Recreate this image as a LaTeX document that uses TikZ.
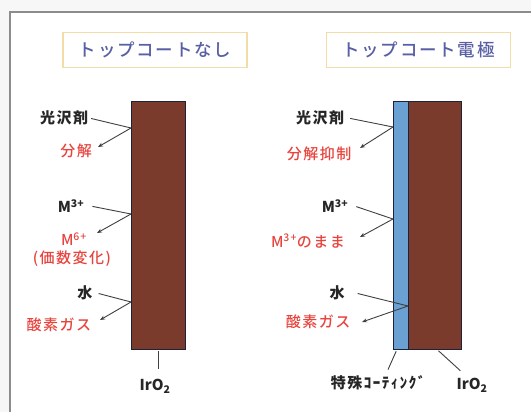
\documentclass[tikz,border=0pt]{standalone}
\usepackage{fontspec}
\setmainfont{Noto Sans CJK JP}
\newfontfamily\jpwide{Noto Sans CJK JP}[LetterSpace=10]
\newfontfamily\jpmed{Noto Sans CJK JP Medium}[LetterSpace=10]
\usetikzlibrary{arrows.meta}
\definecolor{oxidebrown}{HTML}{7A3A2C}
\definecolor{coatblue}{HTML}{6AA0D2}
\definecolor{edgenavy}{HTML}{1E2238}
\definecolor{resred}{HTML}{E8443E}
\definecolor{headblue}{HTML}{5A5FA5}
\definecolor{headrim}{HTML}{F2DDA8}

\begin{document}
\begin{tikzpicture}[x=1pt, y=-1pt,
        % box styles
        headbox/.style={rectangle, draw=headrim, line width=1.3pt, fill=white, minimum width=184pt, minimum height=35pt, text=headblue, font=\fontsize{17.5}{20}\selectfont\jpmed},
        oxide/.style={rectangle, draw=edgenavy, thick, fill=oxidebrown, minimum height=248pt},
        coat/.style={rectangle, draw=edgenavy, thick, fill=coatblue, minimum height=248pt},
        % text and line styles
        species/.style={font=\fontsize{15}{18}\selectfont\jpwide\bfseries, text=black!85, inner sep=1pt},
        formula/.style={font=\fontsize{15}{18}\selectfont\bfseries, text=black!85, inner sep=1pt},
        result/.style={font=\fontsize{15}{18}\selectfont\jpmed, text=resred, inner sep=1pt},
        lead/.style={draw=black!75, line width=0.9pt, shorten <=2pt},
        arrow/.style={draw=black!75, line width=0.9pt, -{Stealth[length=5pt, width=4pt]}}
    ]

    % --- FRAME ---
    \fill[black!3] (0,0) rectangle (531,412);
    \useasboundingbox (0,0) rectangle (531,412);
    \fill[white] (10,12) rectangle (531,412);
    \draw[black!45, line width=1.2pt] (10,412) -- (10,12) -- (531,12);

    % --- HEADINGS ---
    \node[headbox] (headL) at (155,50) {トップコートなし};
    \node[headbox] (headR) at (418.5,50) {トップコート電極};

    % --- ELECTRODES ---
    \node[oxide, minimum width=54pt] (oxL) at (158,225) {};
    \node[coat, minimum width=15pt] (coatR) at (400.5,225) {};
    \node[oxide, minimum width=53pt] (oxR) at (434.5,225) {};

    % --- LEFT: WITHOUT TOP COAT ---
    \node[species] (glossL) at (64,118) {光沢剤};
    \node[result] (decL) at (76,151) {分解};
    \node[formula] (mL) at (71,206) {M\textsuperscript{3+}};
    \node[result] (valL) at (74,239) {M\textsuperscript{6+}};
    \node[result] (valnoteL) at (72,259) {(価数変化)};
    \node[species] (waterL) at (85,293) {水};
    \node[result] (o2L) at (59,325) {酸素ガス};
    \node[formula] (irL) at (155,386) {IrO\textsubscript{2}};

    \coordinate (hitL1) at (131,128);
    \coordinate (hitL2) at (131,214);
    \coordinate (hitL3) at (131,302);
    \coordinate (tipL1) at (98,147);
    \coordinate (tipL2) at (97,233);
    \coordinate (tipL3) at (100,320);

    \draw[lead] (glossL.east) -- (hitL1);
    \draw[arrow] (hitL1) -- (tipL1);
    \draw[lead] ([xshift=5pt]mL.east) -- (hitL2);
    \draw[arrow] (hitL2) -- (tipL2);
    \draw[lead] ([xshift=3pt]waterL.east) -- (hitL3);
    \draw[arrow] (hitL3) -- (tipL3);
    \draw[lead, shorten >=9pt] (oxL.south) -- (oxL.south |- irL.north);

    % --- RIGHT: WITH TOP COAT ---
    \node[species] (glossR) at (320,118) {光沢剤};
    \node[result] (decR) at (319,154) {分解抑制};
    \node[formula] (mR) at (335,206) {M\textsuperscript{3+}};
    \node[result] (keepR) at (308,241) {M\textsuperscript{3+}のまま};
    \node[species] (waterR) at (337,293) {水};
    \node[result] (o2R) at (318,322) {酸素ガス};
    \node[species] (coatlblR) at (378,383) {特殊ｺｰﾃｨﾝｸﾞ};
    \node[formula] (irR) at (472,385) {IrO\textsubscript{2}};

    \coordinate (hitR1) at (393,127);
    \coordinate (hitR2) at (393,219);
    \coordinate (hitR3) at (408,306);
    \coordinate (tipR1) at (360,148);
    \coordinate (tipR2) at (360,237);
    \coordinate (tipR3) at (362,322);

    \draw[lead] ([xshift=3pt]glossR.east) -- (hitR1);
    \draw[arrow] (hitR1) -- (tipR1);
    \draw[lead] ([xshift=5pt]mR.east) -- (hitR2);
    \draw[arrow] (hitR2) -- (tipR2);
    \draw[lead] ([xshift=10pt]waterR.east) -- (hitR3);
    \draw[arrow] (hitR3) -- (tipR3);
    \draw[lead] ([xshift=-3.5pt]coatR.south) -- ([xshift=10pt,yshift=5pt]coatlblR.north);
    \draw[lead] ([xshift=2.5pt]oxR.south) -- ([xshift=5pt,yshift=6pt]irR.north west);

\end{tikzpicture}
\end{document}
